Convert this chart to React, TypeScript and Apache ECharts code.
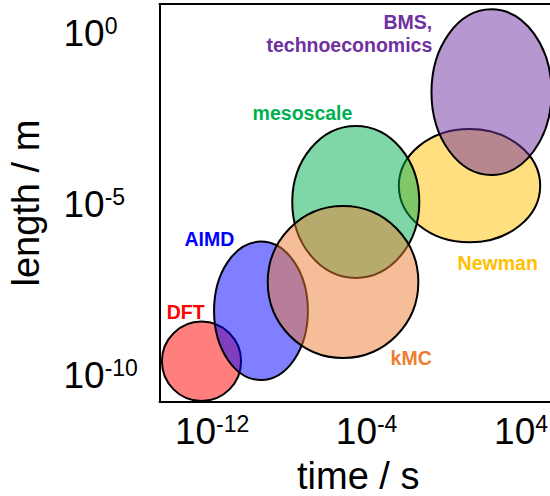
import React, { useEffect, useRef } from 'react';
import * as echarts from 'echarts';

// Simulation scales: ellipses in log10 space (time in s, length in m)
const models = ['DFT', 'AIMD', 'Newman', 'mesoscale', 'kMC', 'BMS'];
const centerLogTime = [-12.55, -9.47, 1.33, -4.56, -5.22, 2.47];
const centerLogLength = [-9.585, -8.111, -4.458, -4.934, -7.27, -1.728];
const halfWidthDecades = [2.05, 2.43, 3.66, 3.29, 3.9, 3.11];
const halfHeightDecades = [1.159, 2.02, 1.655, 2.219, 2.219, 2.418];
const modelColors = ['#FF0000', '#0000FF', '#FFC000', '#00B050', '#ED7D31', '#7030A0'];

// Annotation texts and their anchor points (log10 data units)
const labelTexts = ['DFT', 'AIMD', 'Newman', 'mesoscale', 'kMC', 'BMS,\ntechnoeconomics'];
const labelLogTime = [-13.37, -12.14, 2.79, -7.32, -1.69, -0.6];
const labelLogLength = [-8.137, -6.015, -6.724, -2.327, -9.498, -0.006];

// Tick exponents
const xTicks = [-12, -4, 4];
const yTicks = [-10, -5, 0];

const FONT = '"Liberation Sans", Arial, Helvetica, sans-serif';

function withAlpha(hex: string, a: number) {
  const r = parseInt(hex.slice(1, 3), 16);
  const g = parseInt(hex.slice(3, 5), 16);
  const b = parseInt(hex.slice(5, 7), 16);
  return `rgba(${r},${g},${b},${a})`;
}

const tickRich = {
  b: { fontSize: 37, lineHeight: 38, color: '#000', fontFamily: FONT },
  s: { fontSize: 23, verticalAlign: 'top', color: '#000', fontFamily: FONT },
};

export default function App() {
  const ref = useRef<HTMLDivElement>(null);
  useEffect(() => {
    document.body.style.margin = '0';
    if (!ref.current) return;
    const chart = echarts.init(ref.current, null, { renderer: 'svg' });
    const ellipseData = models.map((m, i) => ({
      name: m,
      value: [centerLogTime[i], centerLogLength[i], halfWidthDecades[i], halfHeightDecades[i]],
    }));
    const labelData = labelTexts.map((t, i) => ({
      name: t,
      value: [labelLogTime[i], labelLogLength[i]],
      label: {
        color: modelColors[i],
        align: i === 5 ? 'right' : 'center',
      },
    }));
    chart.setOption({
      animation: false,
      grid: {
        left: 159.5,
        top: 4.2,
        width: 419.5,
        height: 397.8,
        outerBoundsMode: 'none',
        containLabel: false,
        show: false,
      },
      xAxis: [
        {
          type: 'value',
          position: 'bottom',
          min: -14.725,
          max: 7.0,
          name: 'time / s',
          nameLocation: 'middle',
          nameGap: 55,
          nameTextStyle: { fontSize: 38, color: '#000', fontFamily: FONT, padding: [0, 22, 0, 0] },
          axisLine: { show: true, onZero: false, lineStyle: { color: '#000', width: 2 } },
          axisTick: { show: false },
          splitLine: { show: false },
          axisLabel: {
            customValues: xTicks,
            margin: 10,
            formatter: (v: number) => `{b|10}{s|${v}}`,
            rich: tickRich,
          },
        },
        {
          type: 'value',
          position: 'top',
          min: -14.725,
          max: 7.0,
          axisLine: { show: true, onZero: false, lineStyle: { color: '#000', width: 2 } },
          axisTick: { show: false },
          axisLabel: { show: false },
          splitLine: { show: false },
        },
      ],
      yAxis: {
        type: 'value',
        min: -10.774,
        max: 0.841,
        name: 'length / m',
        nameLocation: 'middle',
        nameGap: 115,
        nameTextStyle: { fontSize: 38, color: '#000', fontFamily: FONT },
        axisLine: { show: true, onZero: false, lineStyle: { color: '#000', width: 2 } },
        axisTick: { show: false },
        splitLine: { show: false },
        axisLabel: {
          customValues: yTicks,
          margin: 96,
          align: 'left',
          formatter: (v: number) => `{b|10}{s|${v}}`,
          rich: tickRich,
        },
      },
      series: [
        {
          type: 'custom',
          clip: false,
          silent: true,
          data: ellipseData,
          renderItem: (params: any, api: any) => {
            const c = api.coord([api.value(0), api.value(1)]);
            const s = api.size([api.value(2), api.value(3)]);
            const i = params.dataIndex;
            return {
              type: 'ellipse',
              shape: { cx: c[0], cy: c[1], rx: s[0], ry: s[1] },
              style: {
                fill: withAlpha(modelColors[i], 0.5),
                stroke: '#000',
                lineWidth: 2,
              },
            };
          },
        },
        {
          type: 'scatter',
          silent: true,
          symbolSize: 1,
          itemStyle: { color: 'transparent' },
          data: labelData,
          label: {
            show: true,
            position: 'inside',
            formatter: (p: any) => p.name,
            fontSize: 19.5,
            lineHeight: 23.4,
            fontWeight: 'bold',
            fontFamily: FONT,
            textBorderWidth: 0,
            opacity: 1,
          },
        },
      ],
    });
    return () => chart.dispose();
  }, []);
  return <div ref={ref} style={{ width: 550, height: 496 }} />;
}
